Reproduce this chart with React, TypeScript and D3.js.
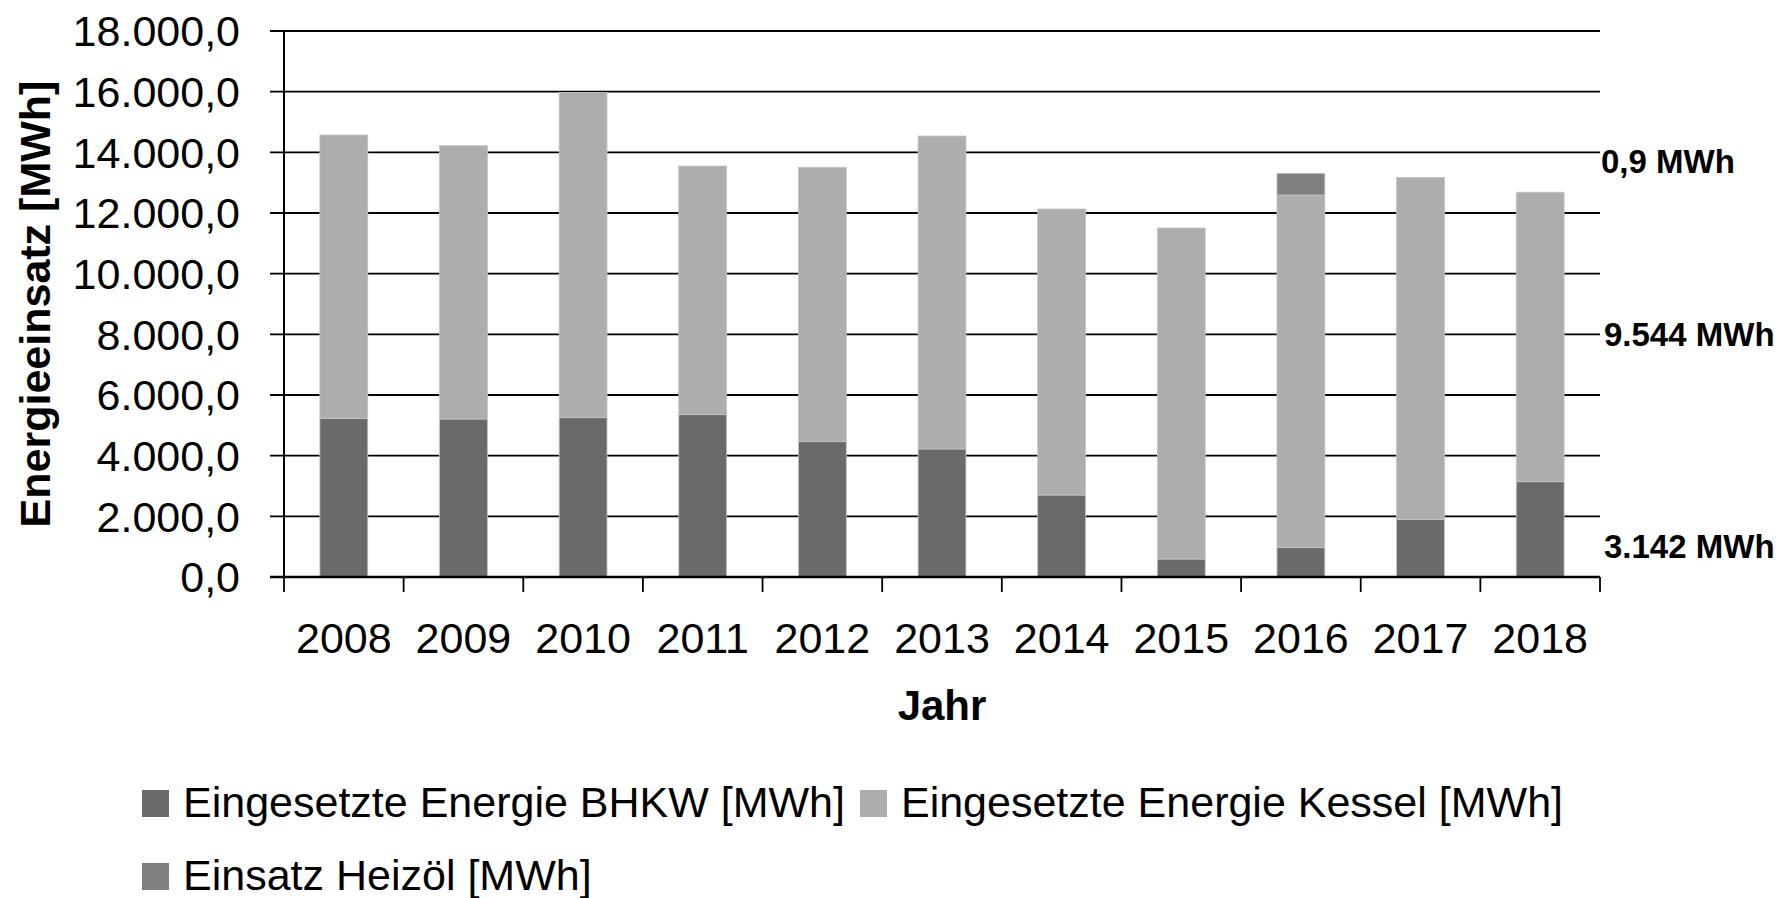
import React from 'react';
import { scaleBand, scaleLinear, select, stack, formatLocale, range } from 'd3';

const years = ['2008', '2009', '2010', '2011', '2012', '2013', '2014', '2015', '2016', '2017', '2018'];
// Eingesetzte Energie BHKW [MWh]
const bhkw = [5232, 5209, 5253, 5352, 4462, 4220, 2703, 593, 967, 1901, 3142];
// Eingesetzte Energie Kessel [MWh]
const kessel = [9339, 9011, 10717, 8197, 9044, 10318, 9429, 10913, 11626, 11275, 9544];
// Einsatz Heizöl [MWh]
const heizoel = [0, 0, 0, 0, 0, 0, 0, 0, 715, 0, 0];

const seriesNames = [
    'Eingesetzte Energie BHKW [MWh]',
    'Eingesetzte Energie Kessel [MWh]',
    'Einsatz Heizöl [MWh]',
];
const seriesColors = ['#6a6a6a', '#adadad', '#7f7f7f'];
const yTicks = [0, 2000, 4000, 6000, 8000, 10000, 12000, 14000, 16000, 18000];
const annotations = ['0,9 MWh', '9.544 MWh', '3.142 MWh'];

const dims = {
    width: 1789,
    height: 898,
    left: 284,
    right: 1600,
    top: 31,
    bottom: 577,
};

const font = '"Liberation Sans", Arial, sans-serif';

const de = formatLocale({ decimal: ',', thousands: '.', grouping: [3], currency: ['', ' €'] });
const fmt = de.format(',.1f');

const App: React.FC = () => {
    const ref = React.useRef<SVGSVGElement>(null);

    React.useEffect(() => {
        const svg = select(ref.current);
        svg.selectAll('*').remove();

        const table = years.map((year, i) => ({ year, bhkw: bhkw[i], kessel: kessel[i], heizoel: heizoel[i] }));
        const keys = ['bhkw', 'kessel', 'heizoel'];
        const stacked = stack<any>().keys(keys)(table);

        const x = scaleBand()
            .domain(years)
            .range([dims.left, dims.right])
            .paddingInner(0.6)
            .paddingOuter(0.3);
        const y = scaleLinear().domain([0, 18000]).range([dims.bottom, dims.top]);
        const step = x.step();

        // gridlines + left ticks
        svg.append('g')
            .selectAll('line')
            .data(yTicks.filter(t => t > 0))
            .enter().append('line')
            .attr('x1', dims.left - 14)
            .attr('x2', dims.right)
            .attr('y1', d => y(d))
            .attr('y2', d => y(d))
            .attr('stroke', '#000')
            .attr('stroke-width', 1.8);

        // y tick labels
        svg.append('g')
            .selectAll('text')
            .data(yTicks)
            .enter().append('text')
            .attr('x', 240)
            .attr('y', d => y(d))
            .attr('dy', '0.36em')
            .attr('text-anchor', 'end')
            .style('font-family', font)
            .style('font-size', '43px')
            .attr('fill', '#000')
            .text(d => fmt(d));

        // bars
        svg.append('g')
            .selectAll('g')
            .data(stacked)
            .enter().append('g')
            .attr('fill', (_d, i) => seriesColors[i])
            .selectAll('rect')
            .data(d => d.filter(p => p[1] - p[0] > 0))
            .enter().append('rect')
            .attr('x', d => x(d.data.year)!)
            .attr('width', x.bandwidth())
            .attr('y', d => y(d[1]))
            .attr('height', d => y(d[0]) - y(d[1]))
            .attr('stroke', '#c4c4c4')
            .attr('stroke-width', 0.8);

        // y axis line
        svg.append('line')
            .attr('x1', dims.left).attr('x2', dims.left)
            .attr('y1', dims.top).attr('y2', dims.bottom)
            .attr('stroke', '#000').attr('stroke-width', 2);

        // x axis line
        svg.append('line')
            .attr('x1', dims.left - 14).attr('x2', dims.right)
            .attr('y1', dims.bottom).attr('y2', dims.bottom)
            .attr('stroke', '#000').attr('stroke-width', 2.5);

        // x ticks between categories
        svg.append('g')
            .selectAll('line')
            .data(range(years.length + 1))
            .enter().append('line')
            .attr('x1', i => dims.left + i * step)
            .attr('x2', i => dims.left + i * step)
            .attr('y1', dims.bottom)
            .attr('y2', dims.bottom + 15)
            .attr('stroke', '#000')
            .attr('stroke-width', 1.8);

        // x labels
        svg.append('g')
            .selectAll('text')
            .data(years)
            .enter().append('text')
            .attr('x', d => x(d)! + x.bandwidth() / 2)
            .attr('y', 653)
            .attr('text-anchor', 'middle')
            .style('font-family', font)
            .style('font-size', '43px')
            .text(d => d);

        // axis titles
        svg.append('text')
            .attr('transform', `translate(50, ${(dims.top + dims.bottom) / 2}) rotate(-90)`)
            .attr('text-anchor', 'middle')
            .style('font-family', font)
            .style('font-size', '43px')
            .style('font-weight', 'bold')
            .text('Energieeinsatz [MWh]');

        svg.append('text')
            .attr('x', (dims.left + dims.right) / 2)
            .attr('y', 720)
            .attr('text-anchor', 'middle')
            .style('font-family', font)
            .style('font-size', '42px')
            .style('font-weight', 'bold')
            .text('Jahr');

        // annotations on the right
        const annoPos = [[1601, 173], [1604, 346], [1604, 558]];
        svg.append('g')
            .selectAll('text')
            .data(annotations)
            .enter().append('text')
            .attr('x', (_d, i) => annoPos[i][0])
            .attr('y', (_d, i) => annoPos[i][1])
            .style('font-family', font)
            .style('font-size', '33px')
            .style('font-weight', 'bold')
            .text(d => d);

        // legend
        const legend = svg.append('g');
        const addItem = (sx: number, rowY: number, i: number) => {
            legend.append('rect')
                .attr('x', sx).attr('y', rowY - 27)
                .attr('width', 27).attr('height', 27)
                .attr('fill', seriesColors[i]);
            const t = legend.append('text')
                .attr('x', sx + 41).attr('y', rowY)
                .style('font-family', font)
                .style('font-size', '43px')
                .text(seriesNames[i]);
            return sx + 41 + (t.node() as SVGTextElement).getComputedTextLength();
        };
        const end1 = addItem(142, 817, 0);
        addItem(end1 + 15, 817, 1);
        addItem(142, 890, 2);
    }, []);

    return (
        <svg
            ref={ref}
            width={dims.width}
            height={dims.height}
            style={{ position: 'absolute', left: 0, top: 0, background: '#fff' }}
        />
    );
};

export default App;
